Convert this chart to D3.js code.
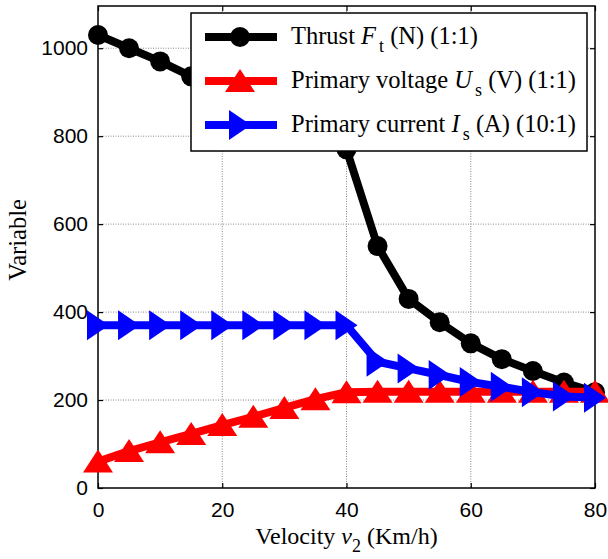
<!DOCTYPE html>
<html lang="en">
<head>
<meta charset="UTF-8">
<title>Thrust vs velocity</title>
<script src="https://d3js.org/d3.v7.min.js"></script>
<style>
    body { margin: 0; background: #fff; }
    .tick-label { font-family: "Liberation Sans", Arial, sans-serif; font-size: 21px; fill: #000; }
    .serif { font-family: "Liberation Serif", "Times New Roman", serif; font-size: 24.5px; fill: #000; }
</style>
</head>
<body>
<div id="chart"></div>
<script>
// velocity (km/h)
const velocity = [0, 5, 10, 15, 20, 25, 30, 35, 40, 45, 50, 55, 60, 65, 70, 75, 80];
// thrust Ft (N), 1:1
const thrust = [1030, 1000, 970, 936, 905, 875, 845, 810, 770, 550, 430, 377, 329, 293, 266, 240, 218];
// primary voltage Us (V), 1:1
const voltage = [60, 84, 104, 123, 143, 162, 182, 202, 218, 219, 219, 219, 219, 219, 219, 219, 219];
// primary current Is (A), 10:1
const current = [370, 370, 370, 370, 370, 370, 370, 370, 370, 287, 272, 257, 241, 230, 218, 208, 205];

const xTicks = [0, 20, 40, 60, 80];
const yTicks = [0, 200, 400, 600, 800, 1000];

const W = 608, H = 559;
const margin = {top: 6, right: 13, bottom: 71, left: 98};
const width = W - margin.left - margin.right;
const height = H - margin.top - margin.bottom;

const svg = d3.select("#chart").append("svg")
    .attr("width", W)
    .attr("height", H);

const g = svg.append("g")
    .attr("transform", `translate(${margin.left},${margin.top})`);

const x = d3.scaleLinear().domain([0, 80]).range([0, width]);
const y = d3.scaleLinear().domain([0, 1096]).range([height, 0]);

// grid
g.append("g").selectAll("line")
    .data(xTicks.slice(1, -1))
    .join("line")
    .attr("x1", d => x(d)).attr("x2", d => x(d))
    .attr("y1", 0).attr("y2", height)
    .attr("stroke", "#888").attr("stroke-width", 1).attr("stroke-dasharray", "1,1.5");
g.append("g").selectAll("line")
    .data(yTicks.slice(1))
    .join("line")
    .attr("x1", 0).attr("x2", width)
    .attr("y1", d => y(d)).attr("y2", d => y(d))
    .attr("stroke", "#888").attr("stroke-width", 1).attr("stroke-dasharray", "1,1.5");

// axes with inward ticks
const tl = 5;
const fmt = d3.format("d");
g.append("g").attr("transform", `translate(0,${height})`)
    .call(d3.axisBottom(x).tickValues(xTicks).tickFormat(fmt).tickSizeInner(-tl).tickSizeOuter(0).tickPadding(14))
    .call(a => a.select(".domain").remove())
    .call(a => a.selectAll("text").attr("class", "tick-label").attr("font-size", null).attr("font-family", null));
g.append("g")
    .call(d3.axisTop(x).tickValues(xTicks).tickSizeInner(-tl).tickSizeOuter(0).tickFormat(""))
    .call(a => a.select(".domain").remove());
g.append("g")
    .call(d3.axisLeft(y).tickValues(yTicks).tickFormat(fmt).tickSizeInner(-tl).tickSizeOuter(0).tickPadding(10))
    .call(a => a.select(".domain").remove())
    .call(a => a.selectAll("text").attr("class", "tick-label").attr("font-size", null).attr("font-family", null));
g.append("g").attr("transform", `translate(${width},0)`)
    .call(d3.axisRight(y).tickValues(yTicks).tickSizeInner(-tl).tickSizeOuter(0).tickFormat(""))
    .call(a => a.select(".domain").remove());
g.selectAll(".tick line").attr("stroke-width", 1.2);

// box
g.append("rect")
    .attr("width", width).attr("height", height)
    .attr("fill", "none").attr("stroke", "#000").attr("stroke-width", 1.5);

// marker shapes
const upTri = "M0,-12L15,11L-15,11Z";
const rightTri = "M11,0L-11,15L-11,-15Z";

const series = [
    {values: thrust, color: "#000", marker: "circle"},
    {values: voltage, color: "#f00", marker: upTri},
    {values: current, color: "#00f", marker: rightTri}
];

const line = d3.line().x(d => x(d[0])).y(d => y(d[1]));

const plot = g.append("g");
series.forEach(s => {
    const pts = velocity.map((v, i) => [v, s.values[i]]);
    plot.append("path")
        .datum(pts)
        .attr("d", line)
        .attr("fill", "none")
        .attr("stroke", s.color)
        .attr("stroke-width", 8)
        .attr("stroke-linejoin", "round");
    if (s.marker === "circle") {
        plot.append("g").selectAll("circle")
            .data(pts).join("circle")
            .attr("cx", d => x(d[0])).attr("cy", d => y(d[1]))
            .attr("r", 10).attr("fill", s.color);
    } else {
        plot.append("g").selectAll("path")
            .data(pts).join("path")
            .attr("transform", d => `translate(${x(d[0])},${y(d[1])})`)
            .attr("d", s.marker).attr("fill", s.color);
    }
});

// axis labels
const xl = svg.append("text").attr("class", "serif")
    .attr("x", margin.left + width / 2).attr("y", 544)
    .attr("text-anchor", "middle")
    .style("font-size", "24px");
xl.append("tspan").text("Velocity ");
xl.append("tspan").attr("font-style", "italic").text("v");
xl.append("tspan").attr("font-size", "18px").attr("dy", 8).text("2");
xl.append("tspan").attr("dy", -8).text(" (Km/h)");

svg.append("text").attr("class", "serif")
    .attr("transform", `translate(26,240) rotate(-90)`)
    .attr("text-anchor", "middle")
    .text("Variable");

// legend
const lg = svg.append("g");
lg.append("rect")
    .attr("x", 191).attr("y", 13).attr("width", 396).attr("height", 138)
    .attr("fill", "#fff").attr("stroke", "#000").attr("stroke-width", 1.5);

const legendItems = [
    {pre: "Thrust ", sym: "F", sub: "t", post: " (N) (1:1)"},
    {pre: "Primary voltage ", sym: "U", sub: "s", post: " (V) (1:1)"},
    {pre: "Primary current ", sym: "I", sub: "s", post: " (A) (10:1)"}
];
legendItems.forEach((it, i) => {
    const cy = 37 + i * 44;
    const s = series[i];
    lg.append("line")
        .attr("x1", 205).attr("x2", 277).attr("y1", cy).attr("y2", cy)
        .attr("stroke", s.color).attr("stroke-width", 8);
    if (s.marker === "circle") {
        lg.append("circle").attr("cx", 240).attr("cy", cy).attr("r", 10).attr("fill", s.color);
    } else {
        lg.append("path").attr("transform", `translate(240,${cy})`).attr("d", s.marker).attr("fill", s.color);
    }
    const t = lg.append("text").attr("class", "serif").attr("x", 291).attr("y", cy + 7);
    t.append("tspan").text(it.pre);
    t.append("tspan").attr("font-style", "italic").text(it.sym);
    t.append("tspan").attr("font-size", "18px").attr("dy", 8).attr("dx", 3).text(it.sub);
    t.append("tspan").attr("dy", -8).text(it.post);
});
</script>
</body>
</html>
